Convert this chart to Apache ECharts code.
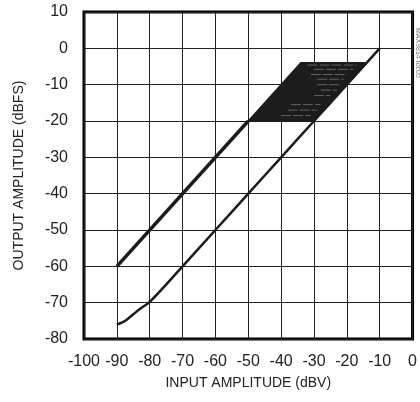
<!DOCTYPE html>
<html>
<head>
<meta charset="utf-8">
<script src="https://cdn.jsdelivr.net/npm/echarts@6/dist/echarts.min.js"></script>
<style>
  html, body { margin: 0; padding: 0; background: #fff; }
  #chart { width: 420px; height: 402px; }
</style>
</head>
<body>
<div id="chart"></div>
<script>
// axis ticks
var xTicks = [-100, -90, -80, -70, -60, -50, -40, -30, -20, -10, 0]
var yTicks = [-80, -70, -60, -50, -40, -30, -20, -10, 0, 10]

// upper curve (low input range)
var upperX = [-90, -50]
var upperY = [-60, -20]

// lower curve
var lowerX = [-90, -88.5, -87, -85, -82.5, -80, -70, -60, -50, -40, -30, -20, -10]
var lowerY = [-76, -75.5, -74.7, -73.2, -71.4, -69.8, -60, -50, -40, -30, -20, -10, 0]

// hysteresis region corners
var loopX = [-50, -34, -14, -30]
var loopY = [-20, -4, -4, -20]

// light streaks inside the region: [x start, x end, y]
var streaks = [
  [-32, -17, -4.6],
  [-30, -18, -5.8],
  [-31, -20, -7.2],
  [-29, -21, -8.5],
  [-29, -22, -10],
  [-28, -23, -11.5],
  [-30, -25, -13],
  [-37, -28, -15.5],
  [-38, -29, -17],
  [-40, -31, -18.5]
]

var font = '"Liberation Sans", Arial, sans-serif'

var chart = echarts.init(document.getElementById('chart'), null, { renderer: 'canvas' })

var option = {
  animation: false,
  backgroundColor: '#fff',
  grid: {
    left: 84,
    right: 7,
    top: 12,
    bottom: 63,
    show: true,
    borderColor: '#000',
    borderWidth: 3,
    backgroundColor: 'transparent'
  },
  xAxis: {
    type: 'value',
    min: xTicks[0],
    max: xTicks[xTicks.length - 1],
    interval: 10,
    name: 'INPUT AMPLITUDE (dBV)',
    nameLocation: 'middle',
    nameGap: 37,
    nameTextStyle: { color: '#222', fontSize: 14, fontFamily: font },
    axisLine: { show: false },
    axisTick: { show: false },
    axisLabel: { color: '#222', fontSize: 16, fontFamily: font, margin: 15 },
    splitLine: { show: true, lineStyle: { color: '#222', width: 1 } }
  },
  yAxis: {
    type: 'value',
    min: yTicks[0],
    max: yTicks[yTicks.length - 1],
    interval: 10,
    name: 'OUTPUT AMPLITUDE (dBFS)',
    nameLocation: 'middle',
    nameGap: 58,
    nameTextStyle: { color: '#222', fontSize: 14, fontFamily: font },
    axisLine: { show: false },
    axisTick: { show: false },
    axisLabel: { color: '#222', fontSize: 16, fontFamily: font, margin: 16 },
    splitLine: { show: true, lineStyle: { color: '#222', width: 1 } }
  },
  graphic: [{
    type: 'text',
    left: 414,
    top: 28,
    rotation: -Math.PI / 2,
    style: { text: 'MAX9814 toc05', fill: '#777', font: '7px ' + font }
  }],
  series: [{
    type: 'custom',
    coordinateSystem: 'cartesian2d',
    data: [0],
    clip: true,
    z: 3,
    renderItem: function (params, api) {
      var pts = loopX.map(function (x, i) { return api.coord([x, loopY[i]]) })
      return {
        type: 'polygon',
        shape: { points: pts },
        style: { fill: '#1c1c1c', stroke: '#1c1c1c', lineWidth: 1.5 }
      }
    }
  }, {
    type: 'custom',
    coordinateSystem: 'cartesian2d',
    data: streaks,
    clip: true,
    z: 4,
    renderItem: function (params, api) {
      var a = api.coord([api.value(0), api.value(2)])
      var b = api.coord([api.value(1), api.value(2)])
      return {
        type: 'line',
        shape: { x1: a[0], y1: a[1], x2: b[0], y2: b[1] },
        style: { stroke: 'rgba(255,255,255,0.45)', lineWidth: 0.7, lineDash: [10, 2] }
      }
    }
  }, {
    type: 'line',
    data: upperX.map(function (x, i) { return [x, upperY[i]] }),
    symbol: 'none',
    z: 5,
    lineStyle: { color: '#1c1c1c', width: 3.5 }
  }, {
    type: 'line',
    data: lowerX.map(function (x, i) { return [x, lowerY[i]] }),
    symbol: 'none',
    smooth: 0.4,
    z: 5,
    lineStyle: { color: '#1c1c1c', width: 2.5 }
  }]
}

chart.setOption(option)
</script>
</body>
</html>
